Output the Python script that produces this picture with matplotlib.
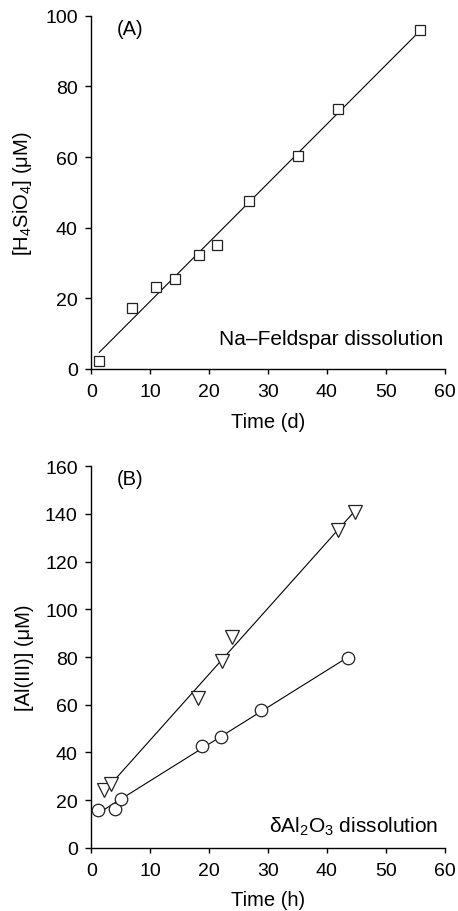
import numpy as np
import matplotlib
matplotlib.use("Agg")
import matplotlib.pyplot as plt

plt.rcParams['font.family'] = ['Liberation Sans', 'DejaVu Sans']
plt.rcParams['mathtext.fontset'] = 'custom'
plt.rcParams['mathtext.rm'] = 'Liberation Sans'
plt.rcParams['mathtext.it'] = 'Liberation Sans'
plt.rcParams['mathtext.default'] = 'regular'

# Panel A: Na-Feldspar dissolution
time_d = [1.36, 6.85, 11.0, 14.2, 18.2, 21.3, 26.8, 35.1, 41.8, 55.8]
h4sio4 = [2.3, 17.4, 23.2, 25.5, 32.3, 35.2, 47.5, 60.2, 73.5, 95.9]

# Panel B: delta-Al2O3 dissolution
time_h_tri = [2.15, 3.34, 18.06, 22.2, 23.9, 41.8, 44.8]
al_tri = [24.2, 26.7, 62.9, 78.5, 88.5, 133.3, 140.7]
time_h_circ = [1.08, 4.02, 5.04, 18.85, 21.96, 28.8, 43.6]
al_circ = [15.8, 16.4, 20.6, 42.5, 46.4, 57.9, 79.4]

xticks = [0, 10, 20, 30, 40, 50, 60]
yticks_a = [0, 20, 40, 60, 80, 100]
yticks_b = [0, 20, 40, 60, 80, 100, 120, 140, 160]

FS_T = 14
FS_L = 14.5
FS_A = 15
fig = plt.figure(figsize=(4.58, 9.12), dpi=100)
axA = fig.add_axes([0.1994, 0.5943, 0.7716, 0.3874])
axB = fig.add_axes([0.1994, 0.0694, 0.7716, 0.4182])


def style(ax, yticks):
    for s in ('top', 'right'):
        ax.spines[s].set_visible(False)
    for s in ('left', 'bottom'):
        ax.spines[s].set_linewidth(1.0)
    ax.set_xlim(0, 60)
    ax.set_ylim(yticks[0], yticks[-1])
    ax.set_xticks(xticks)
    ax.set_yticks(yticks)
    ax.tick_params(axis='both', direction='out', width=1.0,
                   labelsize=FS_T)
    ax.tick_params(axis='y', length=4.3, pad=5.5)
    ax.tick_params(axis='x', length=3.6, pad=6.8)


def fitline(ax, x, y):
    x = np.asarray(x)
    y = np.asarray(y)
    m, b = np.polyfit(x, y, 1)
    xs = np.array([x.min(), x.max()])
    ax.plot(xs, m * xs + b, color='black', lw=0.8, zorder=2)


# Panel A
fitline(axA, time_d, h4sio4)
axA.plot(time_d, h4sio4, ls='none', marker='s', ms=7.2, mfc='white',
         mec='#222222', mew=0.9, zorder=3, clip_on=False)
style(axA, yticks_a)
axA.set_xlabel('Time (d)', fontsize=FS_L, labelpad=8)
axA.set_ylabel('[H$_4$SiO$_4$] (μM)', fontsize=FS_L, labelpad=8)
axA.text(4.4, 96.5, '(A)', fontsize=FS_L, va='center', ha='left')
axA.text(59.7, 8.7, 'Na–Feldspar dissolution', fontsize=FS_A, va='center',
         ha='right')

# Panel B
fitline(axB, time_h_tri, al_tri)
fitline(axB, time_h_circ, al_circ)
axB.plot(time_h_tri, al_tri, ls='none', marker='v', ms=10, mfc='white',
         mec='#222222', mew=0.9, zorder=3, clip_on=False)
axB.plot(time_h_circ, al_circ, ls='none', marker='o', ms=9, mfc='white',
         mec='#222222', mew=0.9, zorder=3, clip_on=False)
style(axB, yticks_b)
axB.set_xlabel('Time (h)', fontsize=FS_L, labelpad=8)
axB.set_ylabel('[Al(III)] (μM)', fontsize=FS_L, labelpad=8)
axB.text(4.4, 154.7, '(B)', fontsize=FS_L, va='center', ha='left')
axB.text(58.9, 9.2, 'δAl$_2$O$_3$ dissolution', fontsize=FS_A, va='center',
         ha='right')

fig.savefig('out.png', dpi=100)
